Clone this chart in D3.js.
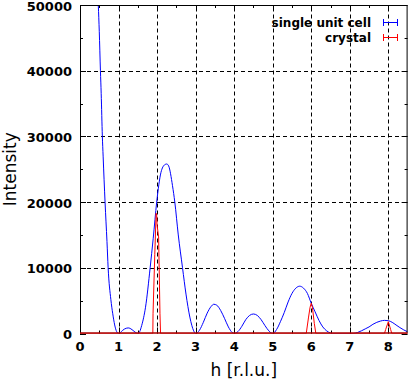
<!DOCTYPE html>
<html>
<head>
<meta charset="utf-8">
<script src="https://cdn.jsdelivr.net/npm/d3@7"></script>
<style>
body { margin: 0; background: #fff; }
svg { display: block; }
</style>
</head>
<body>
<script>
// single unit cell vs crystal diffraction intensity

var width = 409, height = 382;
var margin = {left: 80, right: 1.4, top: 5, bottom: 48.5};

// blue curve: single unit cell
var cellH = [0.40, 0.45, 0.475, 0.5, 0.53, 0.55, 0.58, 0.6, 0.65, 0.7, 0.73, 0.8, 0.85, 0.9, 0.95, 1.0,
	1.05, 1.1, 1.2, 1.25, 1.3, 1.4, 1.5,
	1.55, 1.6, 1.7, 1.82, 1.9, 1.99, 2.1, 2.2, 2.25, 2.3, 2.4, 2.46, 2.55, 2.66, 2.75, 2.85, 2.95, 3.0,
	3.1, 3.2, 3.3, 3.4, 3.47, 3.55, 3.65, 3.75, 3.85, 3.95, 4.0,
	4.1, 4.2, 4.3, 4.4, 4.5, 4.6, 4.7, 4.8, 4.9, 5.0,
	5.1, 5.2, 5.3, 5.4, 5.5, 5.6, 5.7, 5.8, 5.9, 6.0, 6.1, 6.2, 6.3, 6.4, 6.5, 6.55,
	6.8, 7.1, 7.2, 7.3, 7.4, 7.5, 7.6, 7.7, 7.8, 7.9, 8.0, 8.1, 8.2, 8.3, 8.4, 8.5];
var cellI = [70000, 54000, 50000, 46000, 40000, 36500, 30000, 27000, 20000, 14000, 10000, 5200, 3000, 1300, 300, 0,
	150, 450, 800, 850, 780, 350, 0,
	300, 1200, 4000, 10000, 14500, 20000, 24500, 25700, 25800, 25500, 22500, 20000, 15000, 10000, 6000, 2500, 400, 0,
	500, 1700, 3100, 4100, 4450, 4300, 3500, 2300, 1000, 150, 0,
	300, 1100, 2100, 2750, 2970, 2750, 2100, 1200, 400, 0,
	600, 1800, 3200, 4800, 6100, 6900, 7200, 6900, 6100, 4600, 3300, 2000, 1000, 400, 80, 0,
	0, 0, 150, 400, 700, 1000, 1400, 1700, 1900, 2000, 1950, 1700, 1300, 900, 550, 250];

// red curve: crystal
var crystH = [0, 1.87, 1.89, 1.895, 1.94, 1.975, 1.99, 2.0, 2.04, 2.075, 2.09,
	5.87, 5.93, 5.97, 6.0, 6.03, 6.08, 6.12,
	7.9, 7.93, 8.0, 8.06, 8.09, 8.5];
var crystI = [0, 0, 0, 3000, 12000, 18300, 18000, 16500, 14700, 3000, 0,
	0, 2500, 4000, 4600, 4000, 1500, 0,
	0, 600, 1800, 600, 0, 0];

var xTicks = [0, 1, 2, 3, 4, 5, 6, 7, 8];
var yTicks = [0, 10000, 20000, 30000, 40000, 50000];
var xMinor = [0.5, 1.5, 2.5, 3.5, 4.5, 5.5, 6.5, 7.5];
var yMinor = [5000, 15000, 25000, 35000, 45000];
var seriesNames = ["single unit cell", "crystal"];
var seriesColors = ["#0000ff", "#ff0000"];

var svg = d3.select("body").append("svg")
	.attr("width", width)
	.attr("height", height);

var x = d3.scaleLinear().domain([0, 8.5]).range([margin.left, width - margin.right]);
var y = d3.scaleLinear().domain([0, 50000]).range([height - margin.bottom, margin.top]);

svg.append("clipPath").attr("id", "plotclip")
	.append("rect")
	.attr("x", x(0)).attr("y", y(50000))
	.attr("width", x(8.5) - x(0)).attr("height", y(0) - y(50000));

// grid
var grid = svg.append("g").attr("stroke", "#000").attr("stroke-width", 1).attr("stroke-dasharray", "4,3");
grid.selectAll(".gx").data(xTicks.slice(1))
	.enter().append("line")
	.attr("x1", function(d){return Math.round(x(d)) + 0.5})
	.attr("x2", function(d){return Math.round(x(d)) + 0.5})
	.attr("y1", y(0)).attr("y2", y(50000));
grid.selectAll(".gy").data(yTicks.slice(1, -1))
	.enter().append("line")
	.attr("y1", function(d){return Math.round(y(d)) + 0.5})
	.attr("y2", function(d){return Math.round(y(d)) + 0.5})
	.attr("x1", x(0)).attr("x2", x(8.5));

// ticks (inward, mirrored)
var tk = svg.append("g").attr("stroke", "#000").attr("stroke-width", 1);
function hTick(v, len) {
	var px = Math.round(x(v)) + 0.5;
	tk.append("line").attr("x1", px).attr("x2", px).attr("y1", y(0)).attr("y2", y(0) - len);
	tk.append("line").attr("x1", px).attr("x2", px).attr("y1", y(50000)).attr("y2", y(50000) + len);
}
function vTick(v, len) {
	var py = Math.round(y(v)) + 0.5;
	tk.append("line").attr("y1", py).attr("y2", py).attr("x1", x(0)).attr("x2", x(0) + len);
	tk.append("line").attr("y1", py).attr("y2", py).attr("x1", x(8.5)).attr("x2", x(8.5) - len);
}
xTicks.forEach(function(d){ hTick(d, 6) });
xMinor.forEach(function(d){ hTick(d, 3) });
yTicks.forEach(function(d){ vTick(d, 6) });
yMinor.forEach(function(d){ vTick(d, 3) });

// tick labels
svg.append("g").selectAll("text").data(xTicks)
	.enter().append("text")
	.attr("x", function(d){return x(d)})
	.attr("y", y(0) + 17)
	.attr("text-anchor", "middle")
	.style("font-family", "DejaVu Sans")
	.style("font-weight", "bold")
	.style("font-size", "13px")
	.text(function(d){return d});

svg.append("g").selectAll("text").data(yTicks)
	.enter().append("text")
	.attr("x", x(0) - 8)
	.attr("y", function(d){return y(d) + 5.5})
	.attr("text-anchor", "end")
	.style("font-family", "DejaVu Sans")
	.style("font-weight", "bold")
	.style("font-size", "13px")
	.text(function(d){return d});

// curves
var line = d3.line()
	.x(function(d){return x(d[0])})
	.y(function(d){return y(d[1])})
	.curve(d3.curveMonotoneX);
var lineStraight = d3.line()
	.x(function(d){return x(d[0])})
	.y(function(d){return y(d[1])});

var plot = svg.append("g").attr("clip-path", "url(#plotclip)");
plot.append("path")
	.datum(d3.zip(cellH, cellI))
	.attr("d", line)
	.attr("fill", "none")
	.attr("stroke", seriesColors[0])
	.attr("stroke-width", 1);
plot.append("path")
	.datum(d3.zip(crystH, crystI))
	.attr("d", lineStraight)
	.attr("fill", "none")
	.attr("stroke", seriesColors[1])
	.attr("stroke-width", 1);

// border
svg.append("rect")
	.attr("x", x(0) + 0.5).attr("y", y(50000) + 0.5)
	.attr("width", x(8.5) - x(0) - 1).attr("height", y(0) - y(50000) - 1)
	.attr("fill", "none").attr("stroke", "#000");
// red baseline sits on the bottom border
svg.append("line")
	.attr("x1", x(0)).attr("x2", x(8.5))
	.attr("y1", y(0) - 0.5).attr("y2", y(0) - 0.5)
	.attr("stroke", seriesColors[1]).attr("stroke-width", 1);

// legend
var leg = svg.append("g");
seriesNames.forEach(function(name, i) {
	var ly = 22 + i * 15;
	leg.append("text")
		.attr("x", 371)
		.attr("y", ly + 4.5)
		.attr("text-anchor", "end")
		.style("font-family", "DejaVu Sans")
		.style("font-weight", "bold")
		.style("font-size", "12px")
		.text(name);
	var segs = [[383, ly + 0.5, 398, ly + 0.5], [383.5, ly - 3, 383.5, ly + 4], [397.5, ly - 3, 397.5, ly + 4]];
	leg.selectAll(".s" + i).data(segs)
		.enter().append("line")
		.attr("x1", function(d){return d[0]})
		.attr("y1", function(d){return d[1]})
		.attr("x2", function(d){return d[2]})
		.attr("y2", function(d){return d[3]})
		.style("stroke", seriesColors[i])
		.style("stroke-width", 1);
});

// axis titles
svg.append("text")
	.attr("x", (x(0) + x(8.5)) / 2)
	.attr("y", 376)
	.attr("text-anchor", "middle")
	.style("font-family", "DejaVu Sans")
	.style("font-size", "17px")
	.text("h [r.l.u.]");

svg.append("text")
	.attr("transform", "translate(15.5," + ((y(0) + y(50000)) / 2) + ") rotate(-90)")
	.attr("text-anchor", "middle")
	.style("font-family", "DejaVu Sans")
	.style("font-size", "17px")
	.text("Intensity");
</script>
</body>
</html>
